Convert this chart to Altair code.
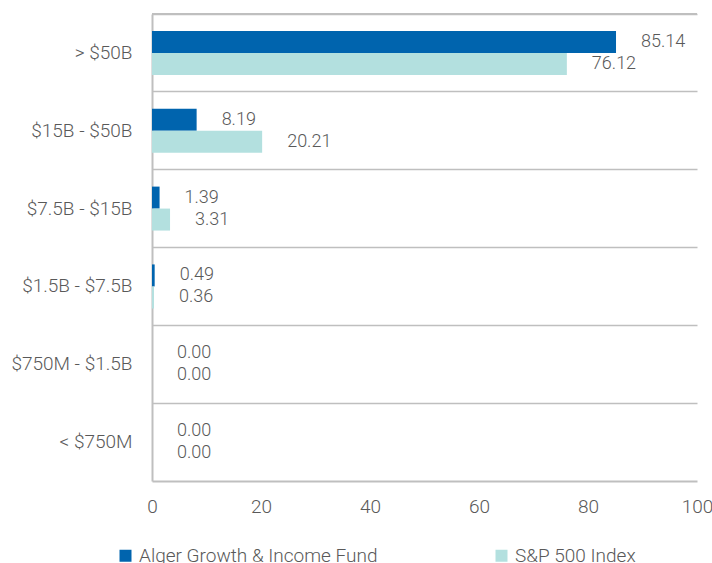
import altair as alt
import pandas as pd

categories = ["> $50B", "$15B - $50B", "$7.5B - $15B", "$1.5B - $7.5B", "$750M - $1.5B", "< $750M"]
fund = [85.14, 8.19, 1.39, 0.49, 0.00, 0.00]
index = [76.12, 20.21, 3.31, 0.36, 0.00, 0.00]
series = ["Alger Growth & Income Fund", "S&P 500 Index"]
colors = ["#0064AE", "#B3E0DF"]

rows = []
for c, f, i in zip(categories, fund, index):
    rows.append({"cat": c, "series": series[0], "value": f})
    rows.append({"cat": c, "series": series[1], "value": i})
df = pd.DataFrame(rows)

FONT = "Roboto"
TXT = "#595959"
LINE = "#BFBFBF"

y_enc = alt.Y("cat:N", sort=categories, title=None,
              scale=alt.Scale(paddingInner=0, paddingOuter=0),
              axis=alt.Axis(grid=True, bandPosition=0, gridColor=LINE, gridWidth=1.5,
                            ticks=False, domainColor=LINE, domainWidth=2,
                            labelFont=FONT, labelFontSize=19, labelFontWeight=300,
                            labelColor=TXT, labelPadding=20))
yoff = alt.YOffset("series:N", sort=series,
                   scale=alt.Scale(paddingInner=0, paddingOuter=0.77))

bars = alt.Chart(df).mark_bar().encode(
    x=alt.X("value:Q", scale=alt.Scale(domain=[0, 100], nice=False), title=None,
            axis=alt.Axis(values=[0, 20, 40, 60, 80, 100], grid=False, ticks=False,
                          domainColor=LINE, domainWidth=2, labelFont=FONT,
                          labelFontSize=19, labelFontWeight=300, labelColor=TXT,
                          labelPadding=16, labelFlush=False)),
    y=y_enc,
    yOffset=yoff,
    color=alt.Color("series:N", sort=series,
                    scale=alt.Scale(domain=series, range=colors),
                    legend=alt.Legend(title=None, orient="none", direction="horizontal",
                                      legendX=-36, legendY=532, symbolType="square",
                                      symbolSize=144, symbolStrokeWidth=0,
                                      labelFont=FONT, labelFontSize=19, labelFontWeight=300,
                                      labelColor=TXT, labelLimit=400,
                                      columnPadding=114, labelOffset=4)),
)

labels = alt.Chart(df).mark_text(align="left", baseline="middle", dx=25,
                                 font=FONT, fontSize=18, fontWeight=300, color=TXT).encode(
    x="value:Q",
    y=alt.Y("cat:N", sort=categories),
    yOffset=alt.YOffset("series:N", sort=series),
    text=alt.Text("value:Q", format=".2f"),
)

top = alt.Chart(pd.DataFrame({"a": [0]})).mark_rule(color=LINE, strokeWidth=2).encode(
    x=alt.value(0), x2=alt.value(545), y=alt.value(0))

chart = alt.layer(bars, labels, top).properties(
    width=545, height=467,
    padding={"left": 152, "top": 14, "right": 15, "bottom": 82},
    autosize=alt.AutoSizeParams(type="none"),
).configure_view(stroke=None)

chart.save("out.html", embed_options={"renderer": "svg", "actions": False})
